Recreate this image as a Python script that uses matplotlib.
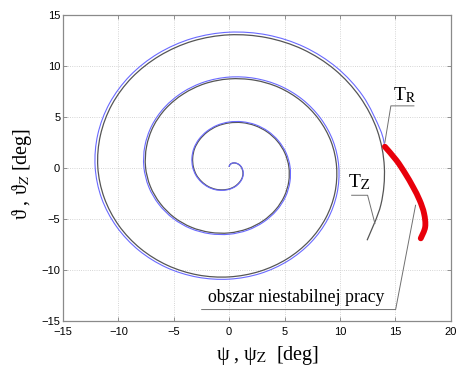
import numpy as np
import matplotlib
matplotlib.use("Agg")
import matplotlib.pyplot as plt
from matplotlib.path import Path
from matplotlib.patches import PathPatch

plt.rcParams.update({
    "font.family": ["Liberation Sans", "DejaVu Sans"],
    "mathtext.fontset": "stix",
    "xtick.direction": "in", "ytick.direction": "in",
    "xtick.top": True, "ytick.right": True,
})
SERIF = ["Liberation Serif", "DejaVu Serif"]

# spiral: polar radius every 15 deg (clockwise from east)
centre = (0.0, 0.1)
theta_deg = np.arange(-90, 1111, 15)
r_blue = [0.00, 0.18, 0.37, 0.55, 0.73, 0.92, 1.10, 1.28, 1.47, 1.65, 1.83, 2.02,
          2.20, 2.38, 2.57, 2.75, 2.93, 3.12, 3.30, 3.48, 3.67, 3.85, 4.03, 4.22,
          4.40, 4.58, 4.77, 4.95, 5.13, 5.32, 5.50, 5.68, 5.87, 6.05, 6.23, 6.42,
          6.60, 6.78, 6.97, 7.15, 7.33, 7.52, 7.70, 7.88, 8.07, 8.25, 8.43, 8.62,
          8.80, 8.98, 9.17, 9.35, 9.53, 9.72, 9.90, 10.08, 10.27, 10.45, 10.63, 10.82,
          11.00, 11.18, 11.37, 11.55, 11.73, 11.92, 12.10, 12.28, 12.47, 12.65, 12.83, 13.02,
          13.20, 13.38, 13.57, 13.75, 13.93, 14.12]
blue_end = (1072, 14.2)
r_black = [0.00, 0.18, 0.36, 0.54, 0.72, 0.90, 1.08, 1.25, 1.44, 1.62, 1.79, 1.98,
           2.16, 2.33, 2.52, 2.70, 2.87, 3.06, 3.23, 3.41, 3.60, 3.77, 3.95, 4.14,
           4.31, 4.49, 4.67, 4.85, 5.03, 5.21, 5.39, 5.57, 5.75, 5.93, 6.11, 6.29,
           6.47, 6.64, 6.83, 7.01, 7.18, 7.37, 7.55, 7.72, 7.91, 8.09, 8.26, 8.45,
           8.62, 8.80, 8.99, 9.16, 9.34, 9.53, 9.70, 9.88, 10.06, 10.24, 10.42, 10.60,
           10.78, 10.96, 11.14, 11.32, 11.50, 11.68, 11.86, 12.03, 12.22, 12.40, 12.57, 12.76,
           12.94, 13.11, 13.30, 13.48, 13.65, 13.84, 14.01, 14.19, 14.38]
# unstable part (red), x/y in deg
red_x = [14.06, 15.1, 15.9, 16.6, 17.2, 17.6, 17.7, 17.3]
red_y = [2.08, 0.75, -0.55, -1.86, -3.17, -4.47, -5.78, -6.9]


def to_xy(th, r):
    t = np.radians(np.asarray(th, float))
    r = np.asarray(r, float)
    return centre[0] + r * np.cos(t), centre[1] - r * np.sin(t)


def smooth(ax, x, y, **kw):
    # draw the read points as one smooth (Catmull-Rom style) bezier path
    p = np.column_stack([x, y])
    q = np.vstack([p[0], p, p[-1]])
    verts, codes = [p[0]], [Path.MOVETO]
    for i in range(1, len(q) - 2):
        verts += [q[i] + (q[i + 1] - q[i - 1]) / 6, q[i + 1] - (q[i + 2] - q[i]) / 6, q[i + 1]]
        codes += [Path.CURVE4] * 3
    ax.add_patch(PathPatch(Path(verts, codes), fill=False, **kw))


fig = plt.figure(figsize=(4.58, 3.71), dpi=100)
ax = fig.add_axes([0.1376, 0.1348, 0.8464, 0.8252])

bx, by = to_xy(list(theta_deg[:len(r_blue)]) + [blue_end[0]], r_blue + [blue_end[1]])
kx, ky = to_xy(theta_deg[:len(r_black)], r_black)
smooth(ax, kx, ky, edgecolor="#555555", lw=0.9, zorder=3)
smooth(ax, bx, by, edgecolor="#6a6aff", lw=0.8, zorder=4)
smooth(ax, red_x, red_y, edgecolor="#e8000b", lw=4.2, capstyle="round", zorder=5)

ax.set_xlim(-15, 20); ax.set_ylim(-15, 15)
ax.set_xticks(np.arange(-15, 21, 5)); ax.set_yticks(np.arange(-15, 16, 5))
ax.tick_params(labelsize=8, length=3, width=0.6, color="#808080")
ax.tick_params(axis="x", pad=4)
ax.tick_params(axis="y", pad=2)
ax.grid(True, ls=":", lw=0.6, color="#c8c8c8")
for s in ax.spines.values():
    s.set_color("#8a8a8a"); s.set_linewidth(0.9)

lc = "#707070"
ax.plot([14.06, 14.6, 16.68], [2.5, 6.08, 6.08], color=lc, lw=0.7, zorder=6)
ax.text(14.75, 6.6, r"T$_\mathrm{R}$", family=SERIF, fontsize=14, va="baseline")
ax.plot([11.06, 12.5, 13.16], [-2.68, -2.68, -5.45], color=lc, lw=0.7, zorder=6)
ax.text(10.75, -1.9, r"T$_\mathrm{Z}$", family=SERIF, fontsize=14, va="baseline")
ax.plot([-2.48, 15.03, 16.83], [-13.88, -13.88, -3.66], color=lc, lw=0.7, zorder=6)
ax.text(-1.9, -13.1, "obszar niestabilnej pracy", family=SERIF, fontsize=12.8, va="baseline")

fig.text(0.585, 0.043, "ψ , ψ$_\\mathrm{Z}$  [deg]", family=SERIF, fontsize=14.5,
         ha="center", va="center")
fig.text(0.048, 0.531, "ϑ , ϑ$_Z$ [deg]", family=SERIF, fontsize=14.5,
         ha="center", va="center", rotation=90)

fig.savefig("out.png", dpi=100)
